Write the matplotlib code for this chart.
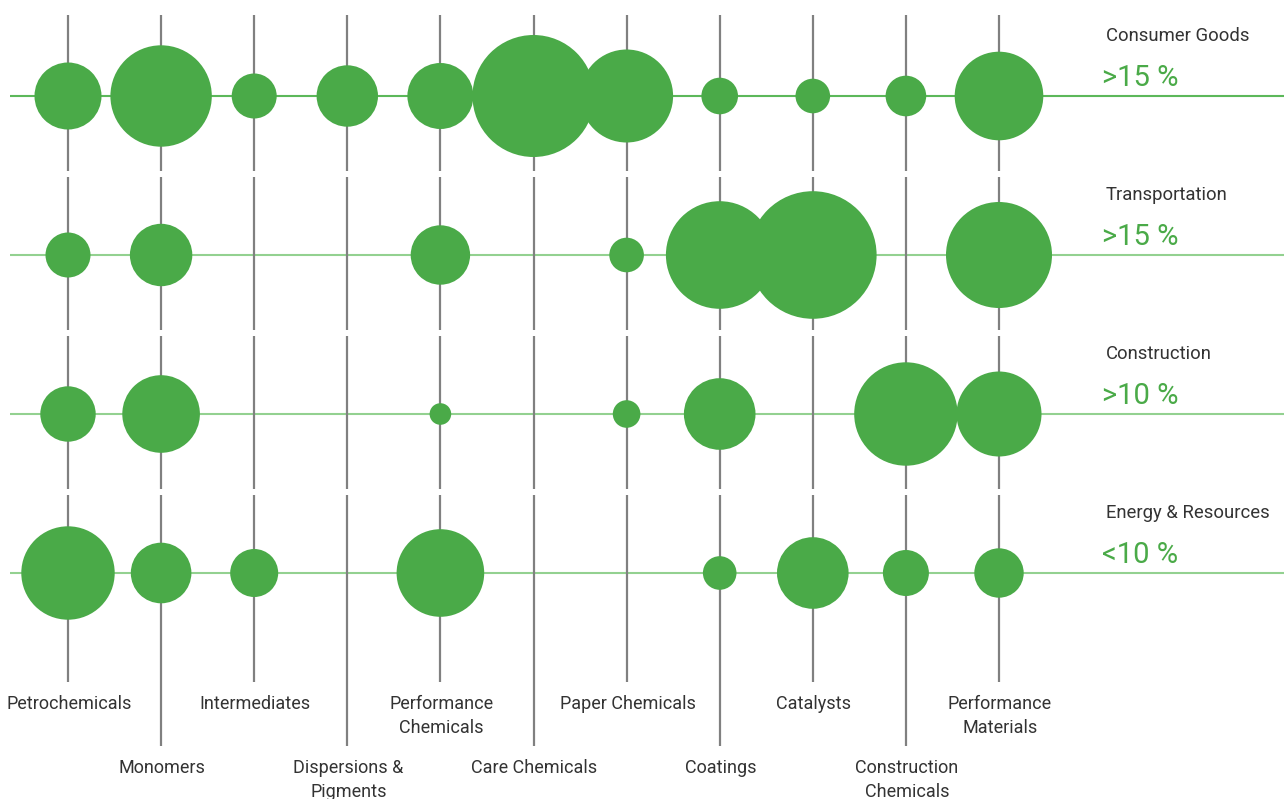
import matplotlib
matplotlib.use("Agg")
import matplotlib.pyplot as plt
from matplotlib.patches import Circle

# Product segments (columns) and end-market rows
segments = ["Petrochemicals", "Monomers", "Intermediates", "Dispersions &\nPigments",
            "Performance\nChemicals", "Care Chemicals", "Paper Chemicals", "Coatings",
            "Catalysts", "Construction\nChemicals", "Performance\nMaterials"]
markets = ["Consumer Goods", "Transportation", "Construction", "Energy & Resources"]
growth = [">15 %", ">15 %", ">10 %", "<10 %"]

# Bubble size per market and segment (0 = no exposure)
consumer_goods = [33.5, 50.7, 22.5, 30.7, 33.0, 61.0, 46.5, 18.3, 17.3, 20.3, 44.3]
transportation = [22.5, 31.2, 0, 0, 29.7, 0, 17.3, 53.8, 63.8, 0, 53.0]
construction = [27.7, 38.8, 0, 0, 10.8, 0, 13.8, 35.8, 0, 51.7, 42.5]
energy_resources = [46.7, 30.3, 24.0, 0, 43.8, 0, 0, 16.8, 35.8, 23.0, 24.7]
sizes = [consumer_goods, transportation, construction, energy_resources]

GREEN = "#4aaa48"
GRAY = "#808080"
TEXT = "#333333"
W, H = 1284, 799

plt.rcParams["font.family"] = ["Roboto", "DejaVu Sans"]

fig = plt.figure(figsize=(W / 100, H / 100), dpi=100)
ax = fig.add_axes([0, 0, 1, 1])
ax.set_xlim(0, W)
ax.set_ylim(H, 0)
ax.set_aspect("equal")
ax.axis("off")

x0, dx = 68, 93.1
y0, dy = 96, 159
xs = [x0 + i * dx for i in range(len(segments))]
ys = [y0 + j * dy for j in range(len(markets))]

# Horizontal market lines
for j, y in enumerate(ys):
    col = "#5cb85a" if j == 0 else "#93d190"
    ax.plot([10, W], [y, y], color=col, lw=1.5, zorder=1, solid_capstyle="butt")

# Vertical segment lines, broken between market rows
seg_bounds = [(15, 171), (177, 330), (336, 489)]
for i, x in enumerate(xs):
    bottom = 682 if i % 2 == 0 else 746
    for a, b in seg_bounds + [(495, bottom)]:
        ax.plot([x, x], [a, b], color=GRAY, lw=1.6, zorder=2, solid_capstyle="butt")

# Bubbles
for j, row in enumerate(sizes):
    for i, r in enumerate(row):
        if r > 0:
            ax.add_patch(Circle((xs[i], ys[j]), r, facecolor=GREEN, edgecolor="none", zorder=3))

# Segment labels, staggered on two levels
for i, (x, name) in enumerate(zip(xs, segments)):
    ytop = 695 if i % 2 == 0 else 759
    ax.text(x + 1, ytop, name, ha="center", va="top", fontsize=13.0, color=TEXT,
            fontweight="normal", linespacing=1.46)

# Market names and growth rates
for j, y in enumerate(ys):
    ax.text(1106, y - 60, markets[j], ha="left", va="center", fontsize=13.3,
            color=TEXT, fontweight="normal")
    ax.text(1102, y - 18, growth[j], ha="left", va="center", fontsize=21,
            color=GREEN, fontweight="normal")

fig.savefig("out.png", dpi=100)
